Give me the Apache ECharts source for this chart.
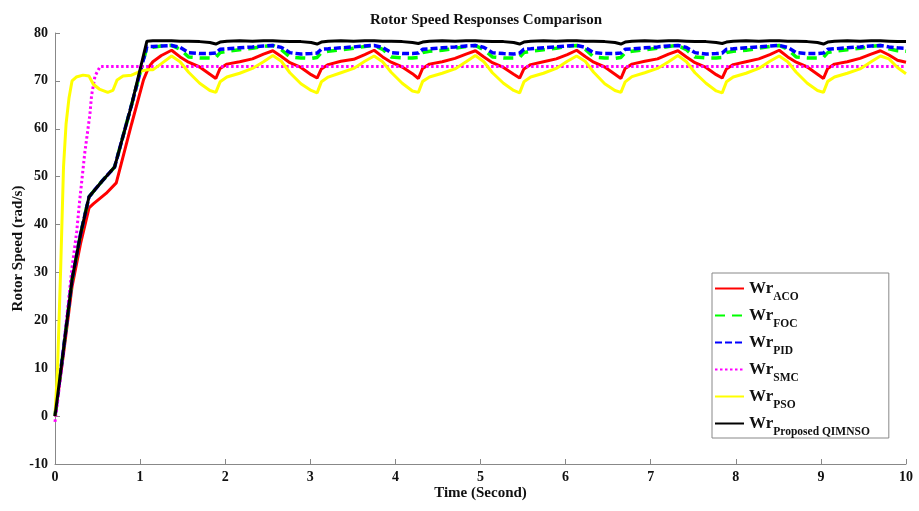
<!DOCTYPE html>
<html>
<head>
<meta charset="utf-8">
<title>Rotor Speed Responses Comparison</title>
<script src="https://cdn.jsdelivr.net/npm/echarts@6/dist/echarts.min.js"></script>
<style>
  html, body { margin: 0; padding: 0; background: #fff; }
  #chart { width: 919px; height: 511px; }
</style>
</head>
<body>
<div id="chart"></div>
<script>
// series names (legend: main text + subscript)
const names = ['ACO', 'FOC', 'PID', 'SMC', 'PSO', 'Proposed QIMNSO']

// start-up transients, [time, speed]
const acoStart = [[0, 0], [0.1, 13], [0.2, 27], [0.3, 36], [0.4, 43.5], [0.45, 44.3], [0.6, 46.5], [0.72, 48.7], [0.9, 61], [1.04, 70.2], [1.1, 72.8]]
const focStart = [[0, 0], [0.1, 14], [0.2, 28.5], [0.3, 38], [0.4, 45.8], [0.55, 49], [0.7, 52], [0.9, 65], [1.08, 77.0]]
const pidStart = [[0, 0], [0.1, 14], [0.2, 28.5], [0.3, 38], [0.4, 45.8], [0.55, 49], [0.7, 52], [0.9, 65], [1.08, 77.2]]
const smcStart = [[0, -1.2], [0.03, 3], [0.08, 10.5], [0.14, 21], [0.2, 31], [0.255, 38.5], [0.29, 45], [0.35, 55], [0.41, 63], [0.43, 67], [0.47, 71], [0.53, 73]]
const psoStart = [[0, 0], [0.03, 10], [0.067, 31], [0.1, 52], [0.13, 61], [0.165, 66.5], [0.2, 70], [0.25, 70.8], [0.33, 71.2], [0.4, 71], [0.45, 69.3], [0.52, 68.3], [0.62, 67.6], [0.68, 68], [0.73, 70.2], [0.8, 71], [0.9, 71.2], [1.0, 72], [1.08, 72.3]]
const qimStart = [[0, 0], [0.1, 14], [0.2, 28.5], [0.3, 38], [0.4, 45.8], [0.55, 49], [0.7, 52], [0.9, 65], [1.08, 78.3]]

// steady-state part: shared time points
const steadyT = [1.15, 1.25,
  1.37, 1.47, 1.57, 1.70, 1.82, 1.89, 1.94, 2.02, 2.17, 2.32, 2.45,
  2.56, 2.66, 2.76, 2.89, 3.01, 3.08, 3.13, 3.21, 3.36, 3.51, 3.64,
  3.75, 3.85, 3.95, 4.08, 4.20, 4.27, 4.32, 4.40, 4.55, 4.70, 4.83,
  4.94, 5.04, 5.14, 5.27, 5.39, 5.46, 5.51, 5.59, 5.74, 5.89, 6.02,
  6.13, 6.23, 6.33, 6.46, 6.58, 6.65, 6.70, 6.78, 6.93, 7.08, 7.21,
  7.32, 7.42, 7.52, 7.65, 7.77, 7.84, 7.89, 7.97, 8.12, 8.27, 8.40,
  8.51, 8.61, 8.71, 8.84, 8.96, 9.03, 9.08, 9.16, 9.31, 9.46, 9.59,
  9.70, 9.80, 9.90, 10.0]

const acoSteady = [74.0, 75.3,
  76.4, 75.0, 73.9, 72.9, 71.4, 70.5, 72.6, 73.5, 74.0, 74.6, 75.6,
  76.3, 75.1, 73.8, 72.8, 71.3, 70.6, 72.5, 73.4, 74.1, 74.5, 75.5,
  76.4, 75.0, 73.9, 72.9, 71.5, 70.5, 72.6, 73.5, 74.0, 74.7, 75.6,
  76.3, 75.0, 73.8, 72.8, 71.4, 70.6, 72.5, 73.4, 74.0, 74.6, 75.5,
  76.4, 75.1, 73.9, 72.9, 71.4, 70.5, 72.6, 73.5, 74.1, 74.6, 75.6,
  76.3, 75.0, 73.8, 72.8, 71.3, 70.6, 72.5, 73.4, 74.0, 74.6, 75.5,
  76.4, 75.0, 73.9, 72.9, 71.4, 70.5, 72.6, 73.5, 74.0, 74.7, 75.6,
  76.3, 75.4, 74.3, 73.9]

const focSteady = [77.0, 77.3,
  77.4, 76.6, 75.0, 74.8, 74.8, 74.9, 75.9, 76.2, 76.5, 76.8, 77.2,
  77.4, 76.5, 75.0, 74.8, 74.7, 74.9, 75.9, 76.2, 76.5, 76.8, 77.2,
  77.4, 76.6, 75.0, 74.8, 74.8, 74.9, 75.9, 76.2, 76.4, 76.8, 77.2,
  77.4, 76.5, 75.0, 74.8, 74.8, 74.9, 75.9, 76.2, 76.5, 76.8, 77.2,
  77.4, 76.6, 75.0, 74.8, 74.7, 74.9, 75.9, 76.2, 76.5, 76.8, 77.2,
  77.4, 76.5, 75.0, 74.8, 74.8, 74.9, 75.9, 76.2, 76.4, 76.8, 77.2,
  77.4, 76.6, 75.0, 74.8, 74.8, 74.9, 75.9, 76.2, 76.5, 76.8, 77.2,
  77.4, 76.7, 76.3, 76.2]

const pidSteady = [77.2, 77.3,
  77.4, 77.0, 75.9, 75.7, 75.7, 75.8, 76.6, 76.7, 76.9, 77.1, 77.3,
  77.4, 77.0, 75.9, 75.6, 75.7, 75.8, 76.6, 76.7, 76.9, 77.1, 77.3,
  77.4, 77.0, 75.9, 75.7, 75.7, 75.8, 76.6, 76.7, 76.9, 77.1, 77.3,
  77.4, 77.0, 75.9, 75.7, 75.6, 75.8, 76.6, 76.7, 76.9, 77.1, 77.3,
  77.4, 77.0, 75.9, 75.7, 75.7, 75.8, 76.6, 76.7, 76.9, 77.1, 77.3,
  77.4, 77.0, 75.9, 75.6, 75.7, 75.8, 76.6, 76.7, 76.9, 77.1, 77.3,
  77.4, 77.0, 75.9, 75.7, 75.7, 75.8, 76.6, 76.7, 76.9, 77.1, 77.3,
  77.4, 77.1, 76.9, 76.8]

const smcSteadyT = [1.15, 10.0]
const smcSteady = [73, 73]

const psoSteady = [72.3, 73.6,
  75.2, 74.0, 71.8, 69.5, 68.0, 67.6, 69.8, 70.8, 71.6, 72.6, 74.0,
  75.3, 74.1, 71.7, 69.4, 68.0, 67.5, 69.8, 70.8, 71.7, 72.6, 74.1,
  75.2, 74.0, 71.8, 69.5, 67.9, 67.6, 69.9, 70.8, 71.6, 72.5, 74.0,
  75.3, 74.0, 71.7, 69.5, 68.0, 67.5, 69.8, 70.8, 71.6, 72.6, 74.1,
  75.2, 74.1, 71.8, 69.4, 68.0, 67.6, 69.8, 70.9, 71.7, 72.6, 74.0,
  75.3, 74.0, 71.7, 69.5, 67.9, 67.5, 69.8, 70.8, 71.6, 72.6, 74.1,
  75.2, 74.0, 71.8, 69.5, 68.0, 67.6, 69.9, 70.8, 71.6, 72.5, 74.0,
  75.2, 74.6, 72.8, 71.5]

const qimSteady = [78.4, 78.4,
  78.4, 78.3, 78.3, 78.2, 78.0, 77.7, 78.1, 78.3, 78.4, 78.3, 78.4,
  78.4, 78.3, 78.2, 78.2, 78.0, 77.7, 78.1, 78.3, 78.4, 78.3, 78.4,
  78.4, 78.3, 78.3, 78.2, 78.0, 77.8, 78.1, 78.3, 78.4, 78.3, 78.4,
  78.4, 78.3, 78.2, 78.2, 78.0, 77.7, 78.1, 78.3, 78.4, 78.3, 78.4,
  78.4, 78.3, 78.3, 78.2, 78.0, 77.7, 78.1, 78.3, 78.4, 78.3, 78.4,
  78.4, 78.3, 78.2, 78.2, 78.0, 77.8, 78.1, 78.3, 78.4, 78.3, 78.4,
  78.4, 78.3, 78.3, 78.2, 78.0, 77.7, 78.1, 78.3, 78.4, 78.3, 78.4,
  78.4, 78.3, 78.2, 78.2]

const font = 'Liberation Serif'

function join(start, times, vals) {
  return start.concat(times.map((t, i) => [t, vals[i]]))
}

const styles = [
  { color: '#ff0000', type: 'solid', width: 3 },
  { color: '#00ff00', type: [10, 7], width: 3.5 },
  { color: '#0000ff', type: [7, 3], width: 3.5 },
  { color: '#ff00ff', type: [2.5, 2.5], width: 3 },
  { color: '#ffff00', type: 'solid', width: 3 },
  { color: '#000000', type: 'solid', width: 3 }
]
const datas = [
  join(acoStart, steadyT, acoSteady),
  join(focStart, steadyT, focSteady),
  join(pidStart, steadyT, pidSteady),
  join(smcStart, smcSteadyT, smcSteady),
  join(psoStart, steadyT, psoSteady),
  join(qimStart, steadyT, qimSteady)
]

const chart = echarts.init(document.getElementById('chart'))
chart.setOption({
  animation: false,
  backgroundColor: '#fff',
  title: {
    text: 'Rotor Speed Responses Comparison',
    left: 481,
    textAlign: 'center',
    top: 8,
    textStyle: { fontFamily: font, fontWeight: 'bold', fontSize: 15, color: '#111' }
  },
  grid: { left: 55, right: 13, top: 33, bottom: 47, outerBoundsMode: 'none', containLabel: false },
  legend: {
    orient: 'vertical',
    left: 712,
    top: 273,
    padding: [7, 19, 0, 2],
    itemGap: 4,
    itemWidth: 29,
    itemHeight: 14,
    borderColor: '#888',
    borderWidth: 1,
    backgroundColor: '#fff',
    itemStyle: { opacity: 0 },
    data: names,
    formatter: n => '{a|Wr}{b|' + n + '}',
    textStyle: {
      rich: {
        a: { fontFamily: font, fontWeight: 'bold', fontSize: 17, color: '#111' },
        b: { fontFamily: font, fontWeight: 'bold', fontSize: 11.5, color: '#111', padding: [17, 0, 0, 0] }
      }
    }
  },
  xAxis: {
    type: 'value',
    min: 0,
    max: 10,
    interval: 1,
    name: 'Time (Second)',
    nameLocation: 'middle',
    nameGap: 22,
    nameMoveOverlap: false,
    nameTextStyle: { fontFamily: font, fontWeight: 'bold', fontSize: 15, color: '#111' },
    axisLine: { onZero: false, lineStyle: { color: '#888', width: 1 } },
    axisTick: { inside: true, length: 5, lineStyle: { color: '#888' } },
    axisLabel: { fontFamily: font, fontWeight: 'bold', fontSize: 14, color: '#111', margin: 6 },
    splitLine: { show: false }
  },
  yAxis: {
    type: 'value',
    min: -10,
    max: 80,
    interval: 10,
    name: 'Rotor Speed (rad/s)',
    nameLocation: 'middle',
    nameGap: 29,
    nameMoveOverlap: false,
    nameTextStyle: { fontFamily: font, fontWeight: 'bold', fontSize: 15, color: '#111' },
    axisLine: { show: true, lineStyle: { color: '#888', width: 1 } },
    axisTick: { show: true, inside: true, length: 5, lineStyle: { color: '#888' } },
    axisLabel: { fontFamily: font, fontWeight: 'bold', fontSize: 14, color: '#111', margin: 7 },
    splitLine: { show: false }
  },
  series: names.map((n, i) => ({
    name: n,
    type: 'line',
    symbol: 'none',
    data: datas[i],
    lineStyle: styles[i],
    itemStyle: { color: styles[i].color }
  }))
})
</script>
</body>
</html>
